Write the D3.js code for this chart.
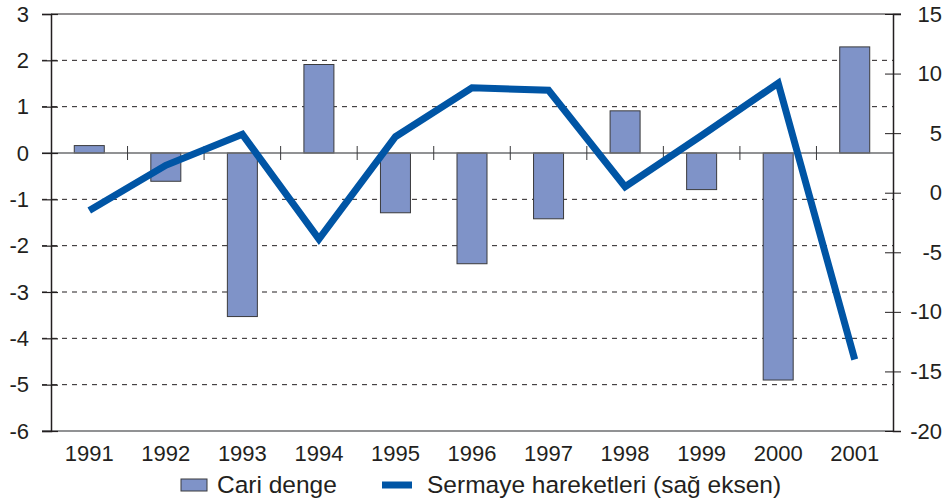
<!DOCTYPE html>
<html>
<head>
<meta charset="utf-8">
<script src="https://cdn.jsdelivr.net/npm/d3@7"></script>
<style>
  body { margin: 0; background: #fff; }
  text { font-family: "Liberation Sans", Arial, sans-serif; fill: #231f20; }
</style>
</head>
<body>
<div id="chart"></div>
<script>
// data
var years = ["1991", "1992", "1993", "1994", "1995", "1996", "1997", "1998", "1999", "2000", "2001"];
var cariDenge = [0.16, -0.61, -3.53, 1.91, -1.29, -2.39, -1.42, 0.91, -0.79, -4.9, 2.29];
var sermaye = [-1.5, 2.3, 4.9, -3.9, 4.7, 8.8, 8.6, 0.5, 4.8, 9.2, -14];
var leftTicks = [3, 2, 1, 0, -1, -2, -3, -4, -5, -6];
var rightTicks = [15, 10, 5, 0, -5, -10, -15, -20];

var svgWidth = 946, svgHeight = 503;
var margin = { top: 14, right: 53, bottom: 72, left: 51 };
var width = svgWidth - margin.left - margin.right;
var height = svgHeight - margin.top - margin.bottom;

var svg = d3.select("#chart").append("svg")
    .attr("width", svgWidth)
    .attr("height", svgHeight);

var g = svg.append("g").attr("transform", "translate(" + margin.left + "," + margin.top + ")");

var x = d3.scaleBand().domain(years).range([0, width]).paddingInner(0).paddingOuter(0);
var yL = d3.scaleLinear().domain([-6, 3]).range([height, 0]);
var yR = d3.scaleLinear().domain([-20, 15]).range([height, 0]);

// dashed gridlines
g.append("g").selectAll("line")
    .data(leftTicks.filter(d => d != 0 && d != 3 && d != -6))
    .enter().append("line")
    .attr("x1", -9).attr("x2", width)
    .attr("y1", d => yL(d)).attr("y2", d => yL(d))
    .attr("stroke", "#231f20").attr("stroke-width", 1)
    .attr("stroke-dasharray", "5,5");

// top frame line
g.append("line").attr("x1", 0).attr("x2", width + 8)
    .attr("y1", 0).attr("y2", 0).attr("stroke", "#231f20");

// bottom line
g.append("line").attr("x1", -9).attr("x2", width)
    .attr("y1", height).attr("y2", height).attr("stroke", "#6d6e71").attr("stroke-width", 1.5);

// bars
var bw = 30;
g.append("g").selectAll("rect")
    .data(years)
    .enter().append("rect")
    .attr("x", d => x(d) + x.bandwidth() / 2 - bw / 2)
    .attr("width", bw)
    .attr("y", (d, i) => yL(Math.max(0, cariDenge[i])))
    .attr("height", (d, i) => Math.abs(yL(cariDenge[i]) - yL(0)))
    .attr("fill", "#7f93c8")
    .attr("stroke", "#3a3a3c")
    .attr("stroke-width", 1);

// zero line with category ticks
g.append("line").attr("x1", -9).attr("x2", width)
    .attr("y1", yL(0)).attr("y2", yL(0))
    .attr("stroke", "#6d6e71").attr("stroke-width", 1.5);
g.append("g").selectAll("line")
    .data(years.slice(1))
    .enter().append("line")
    .attr("x1", d => x(d)).attr("x2", d => x(d))
    .attr("y1", yL(0) - 7).attr("y2", yL(0) + 7)
    .attr("stroke", "#3a3a3c").attr("stroke-width", 1);

// left axis
var leftAxis = d3.axisLeft(yL).tickValues(leftTicks).tickSize(9).tickPadding(13).tickFormat(d3.format("d"));
var la = g.append("g").call(leftAxis);
la.select(".domain").attr("stroke", "#231f20").attr("stroke-width", 1.5);
la.selectAll(".tick line").attr("x2", 7).attr("x1", -9).attr("stroke", "#231f20").attr("stroke-width", 1.2);
la.selectAll(".tick text").style("font-size", "22px").attr("fill", "#231f20")
    .text(d => d < 0 ? "-" + Math.abs(d) : d);

// right axis
var rightAxis = d3.axisRight(yR).tickValues(rightTicks).tickSize(8).tickPadding(0);
var ra = g.append("g").attr("transform", "translate(" + width + ",0)").call(rightAxis);
ra.select(".domain").attr("stroke", "#231f20").attr("stroke-width", 1.5);
ra.selectAll(".tick line").attr("x1", -8).attr("stroke", "#231f20").attr("stroke-width", 1);
ra.selectAll(".tick text").style("font-size", "22px").attr("fill", "#231f20")
    .attr("text-anchor", "end").attr("x", 49)
    .text(d => d < 0 ? "-" + Math.abs(d) : d);

// x labels
g.append("g").selectAll("text")
    .data(years)
    .enter().append("text")
    .attr("x", d => x(d) + x.bandwidth() / 2)
    .attr("y", height + 30)
    .attr("text-anchor", "middle")
    .style("font-size", "22px")
    .text(d => d);

// line
var line = d3.line()
    .x((d, i) => x(years[i]) + x.bandwidth() / 2)
    .y(d => yR(d));
g.append("path")
    .datum(sermaye)
    .attr("d", line)
    .attr("fill", "none")
    .attr("stroke", "#0055a5")
    .attr("stroke-width", 7);

// legend
var legend = svg.append("g");
legend.append("rect").attr("x", 181).attr("y", 479).attr("width", 26).attr("height", 12)
    .attr("fill", "#7f93c8").attr("stroke", "#3a3a3c");
legend.append("text").attr("x", 217).attr("y", 493).style("font-size", "24.5px").text("Cari denge");
legend.append("line").attr("x1", 382).attr("x2", 412).attr("y1", 485).attr("y2", 485)
    .attr("stroke", "#0055a5").attr("stroke-width", 7);
legend.append("text").attr("x", 427).attr("y", 493).style("font-size", "24.5px").text("Sermaye hareketleri (sağ eksen)");
</script>
</body>
</html>
